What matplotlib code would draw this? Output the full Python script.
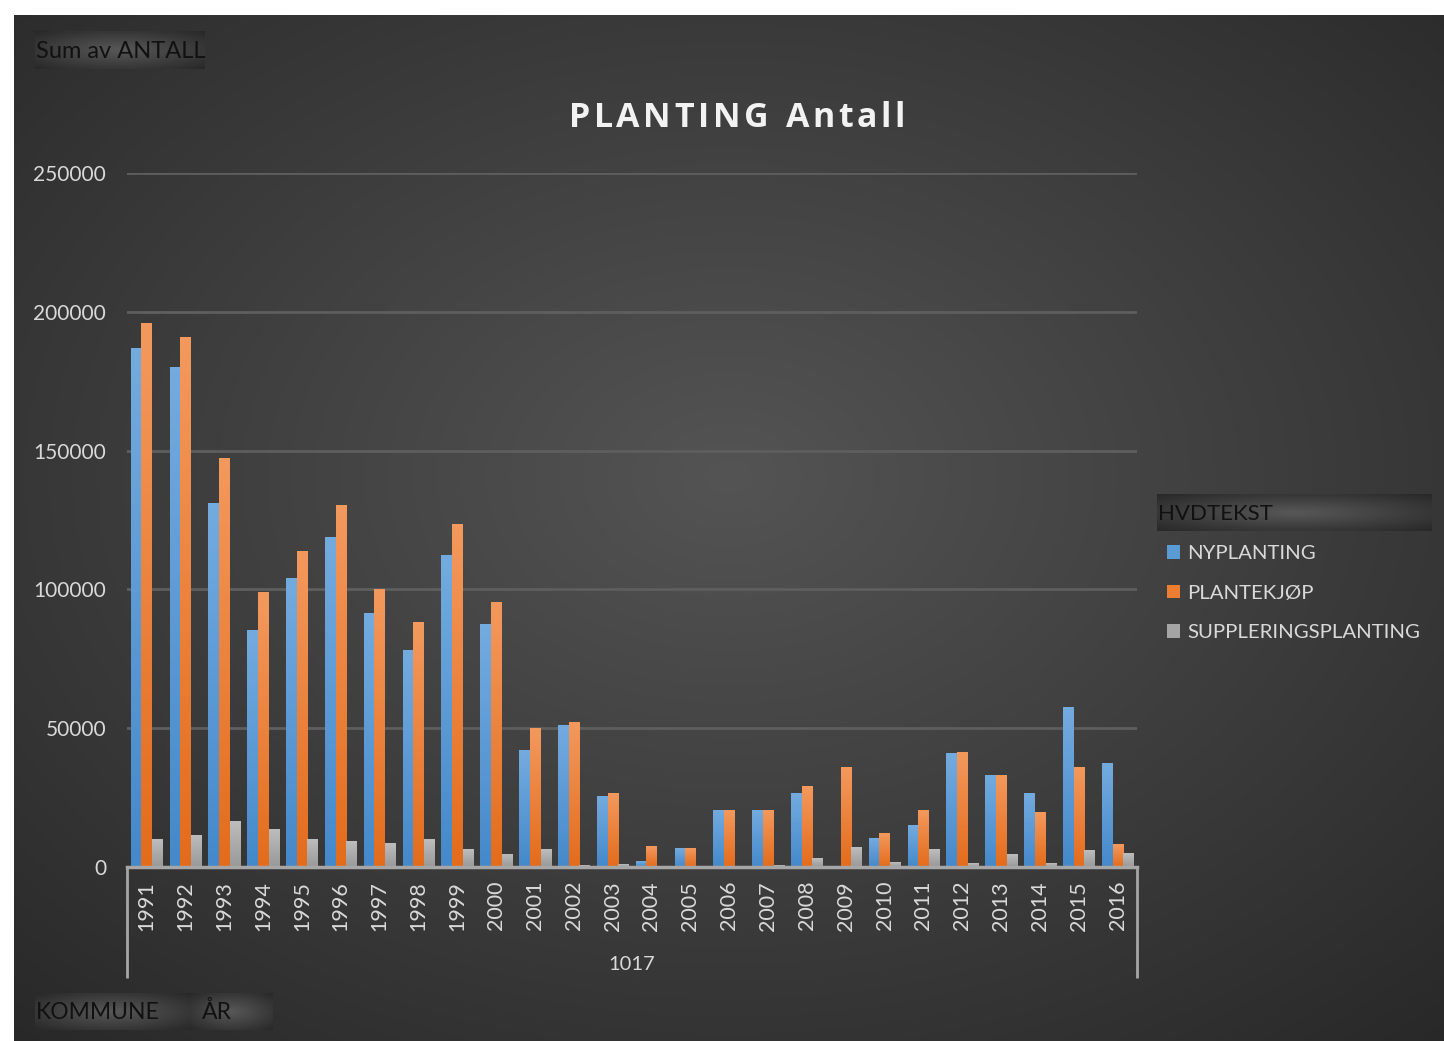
import numpy as np
import matplotlib.pyplot as plt
from matplotlib.patches import Patch
from matplotlib.colors import to_rgb

# data
years = [str(y) for y in range(1991, 2017)]
nyplanting = [187000, 180000, 131000, 85500, 104000, 119000, 91500, 78000, 112500, 87500,
              42000, 51300, 25400, 2000, 6700, 20700, 20400, 26500, 0, 10300,
              15000, 40900, 33300, 26500, 57800, 37300]
plantekjop = [195800, 191000, 147500, 99000, 113800, 130500, 100200, 88200, 123500, 95500,
              50200, 52400, 26500, 7400, 6700, 20700, 20700, 29000, 35900, 12100,
              20700, 41600, 33300, 19700, 36200, 8200]
supplering = [10000, 11500, 16500, 13600, 10000, 9200, 8500, 10000, 6400, 4800,
              6400, 600, 1000, 0, 0, 0, 600, 3100, 7100, 1700,
              6400, 1300, 4600, 1300, 6000, 4900]
series_names = ["NYPLANTING", "PLANTEKJØP", "SUPPLERINGSPLANTING"]
series_colors = ["#5b9bd5", "#ed7d31", "#a5a5a5"]
# lighter top / darker bottom for the bar gradients
grad_top = ["#74abdf", "#f3995e", "#bdbdbd"]
grad_bot = ["#4589ca", "#e36c1c", "#999999"]
y_ticks = [0, 50000, 100000, 150000, 200000, 250000]
group_label = "1017"
title = "PLANTING Antall"

W, H = 1444, 1041
plt.rcParams['font.family'] = ['Lato', 'DejaVu Sans']

fig = plt.figure(figsize=(W / 100, H / 100), dpi=100, facecolor="white")

# background layer in pixel coordinates
bg = fig.add_axes([0, 0, 1, 1], zorder=0)
bg.axis("off")


def radial(w, h, c_in, c_out, cx=0.5, cy=0.5):
    yy, xx = np.mgrid[0:1:h * 1j, 0:1:w * 1j]
    r = np.sqrt(((xx - cx) / 0.75) ** 2 + ((yy - cy) / 0.75) ** 2)
    r = np.clip(r, 0, 1)[..., None]
    c_in = np.array(c_in) / 255.0
    c_out = np.array(c_out) / 255.0
    return c_in * (1 - r) + c_out * r


bg.imshow(radial(300, 220, (84, 84, 84), (40, 40, 40), 0.5, 0.45),
          extent=(14, W, H, 15), aspect="auto", interpolation="bilinear")


def button(x0, y0, x1, y1, text, fs=15.5):
    g = radial(80, 20, (88, 88, 88), (38, 38, 38))
    bg.imshow(g, extent=(x0, x1, y1, y0), aspect="auto", interpolation="bilinear")
    if text:
        bg.text(x0 + 1, (y0 + y1) / 2 + 1, text, color="#111111", fontsize=fs,
                ha="left", va="center")


button(35, 31, 205, 69, "Sum av ANTALL", 17)
button(35, 993, 190, 1030, "KOMMUNE", 16.5)
button(190, 993, 273, 1030, "")
bg.text(202, 1012, "ÅR", color="#111111", fontsize=16.5, ha="left", va="center")
button(1157, 494, 1432, 531, "HVDTEKST", 16)
bg.set_xlim(0, W)
bg.set_ylim(H, 0)

# title with extra letter spacing (drawn char by char)
renderer = fig.canvas.get_renderer()
tkw = dict(color="#f2f2f2", fontsize=24.5, fontweight="bold",
           family=["Open Sans", "DejaVu Sans"], va="center", ha="left")
track = 3.6
widths = []
for ch in title:
    t = bg.text(0, 0, ch if ch != " " else "n", **tkw)
    w = t.get_window_extent(renderer).width
    if ch == " ":
        w *= 0.45
    widths.append(w)
    t.remove()
total = sum(widths) + track * (len(title) - 1)
xp = 737 - total / 2
for ch, w in zip(title, widths):
    if ch != " ":
        bg.text(xp, 118, ch, **tkw)
    xp += w + track

# multi-level axis lines below plot
for xl in (127, 1137):
    bg.plot([xl, xl], [867, 978], color="#a6a6a6", lw=2, solid_capstyle="butt")
bg.text(632, 965, group_label, color="#d9d9d9", fontsize=14.5, ha="center", va="center")

# main plot
ax = fig.add_axes([127 / W, (H - 867) / H, 1010 / W, 694 / H], zorder=1)
ax.patch.set_alpha(0)
x = np.arange(len(years))
bw = 0.26
off = 0.275
for i, (vals, name) in enumerate(zip([nyplanting, plantekjop, supplering], series_names)):
    bars = ax.bar(x + (i - 1) * off, vals, width=bw, color=series_colors[i],
                  label=name, zorder=3)
    g = np.linspace(0, 1, 64)[:, None, None]
    img = np.array(to_rgb(grad_top[i])) * (1 - g) + np.array(to_rgb(grad_bot[i])) * g
    for b in bars:
        h = b.get_height()
        if h <= 0:
            continue
        bx = b.get_x()
        im = ax.imshow(img, extent=(bx, bx + b.get_width(), 0, h), aspect="auto",
                       origin="upper", zorder=3.5, interpolation="bilinear")
        im.set_clip_path(b)

ax.set_xlim(-0.5, len(years) - 0.5)
ax.set_ylim(0, 250000)
ax.set_aspect("auto")
ax.set_yticks(y_ticks)
ax.set_yticklabels([str(v) for v in y_ticks])
ax.yaxis.grid(True, color="#5e5e5e", lw=2, zorder=0)
ax.set_xticks(x)
ax.set_xticklabels(years, rotation=90, va="top")
ax.tick_params(axis="x", length=0, pad=10, colors="#d9d9d9", labelsize=15.5)
ax.tick_params(axis="y", length=0, pad=15, colors="#d9d9d9", labelsize=15)
for s in ("left", "right", "top"):
    ax.spines[s].set_visible(False)
ax.spines["bottom"].set_color("#a6a6a6")
ax.spines["bottom"].set_linewidth(2.5)
ax.spines["bottom"].set_zorder(5)

handles = [Patch(facecolor=c) for c in series_colors]
fig.legend(handles, series_names, loc="upper left",
           bbox_to_anchor=(1157 / W, (H - 535) / H), frameon=False,
           fontsize=14.7, labelcolor="#d9d9d9", handlelength=0.62, handleheight=0.62,
           handletextpad=0.35, labelspacing=1.1, borderpad=0)

fig.savefig("out.png", dpi=100, facecolor="white")
